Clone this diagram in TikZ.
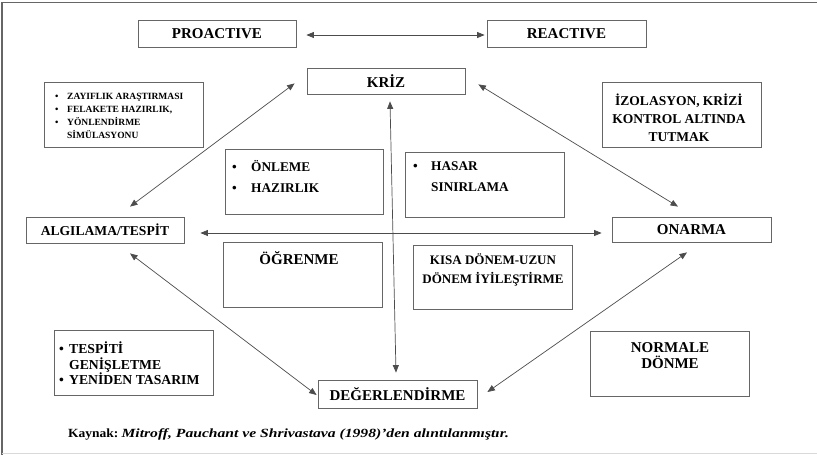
\documentclass[tikz,border=0pt]{standalone}
\usepackage{fontspec}
\setmainfont{Liberation Serif}
\usetikzlibrary{arrows.meta,calc,positioning}

\begin{document}
\begin{tikzpicture}[x=1pt,y=-1pt,
    kutu/.style={draw=black!60,line width=0.8pt,inner sep=0pt,minimum width=158pt},
    ok/.style={draw=black!70,line width=0.7pt,{Triangle[length=7.5pt,width=6pt]}-{Triangle[length=7.5pt,width=6pt]}},
    baslik/.style={font=\fontsize{15}{17}\selectfont\bfseries},
    yazi/.style={font=\fontsize{13}{15}\selectfont\bfseries,inner sep=0pt}]
    \useasboundingbox (0,0) rectangle (817,455);
    % cerceve
    \draw[black!60,line width=1.6pt] (2,455) -- (2,2.5) -- (817,2.5);
    \draw[black!15,line width=1pt] (2,453) -- (817,453);
    % ana kutular
    \node[kutu,baslik,minimum height=27pt] (pro) at (217,33.5) {PROACTIVE};
    \node[kutu,baslik,minimum height=27pt,minimum width=159pt] (rea) at (566.5,33.5) {REACTIVE};
    \node[kutu,baslik,minimum height=26pt] (kriz) at (386,81) {KRİZ};
    \node[kutu,baslik,minimum height=26pt,font=\fontsize{13.6}{15}\selectfont\bfseries] (alg) at (105,230) {ALGILAMA/TESPİT};
    \node[kutu,baslik,minimum height=25pt,minimum width=159pt] (ona) at (691.5,229.5) {ONARMA};
    \node[kutu,baslik,minimum height=28pt,minimum width=159pt] (deg) at (397.5,394) {DEĞERLENDİRME};
    % ara kutular
    \node[kutu,minimum width=159pt,minimum height=65pt] (zay) at (123.5,114.5) {};
    \node[kutu,minimum width=159pt,minimum height=65pt] (izo) at (681.5,114.5) {};
    \node[kutu,minimum height=65pt] (onl) at (304,181.5) {};
    \node[kutu,minimum width=159pt,minimum height=65pt] (has) at (484.5,184.5) {};
    \node[kutu,minimum width=159pt,minimum height=65pt] (ogr) at (302.5,274.5) {};
    \node[kutu,minimum width=159pt,minimum height=64pt] (kis) at (492.5,277) {};
    \node[kutu,minimum width=159pt,minimum height=65pt] (tes) at (133.5,362.5) {};
    \node[kutu,minimum width=159pt,minimum height=65pt] (nor) at (669.5,363.5) {};
    % kutu yazilari
    \node[yazi,font=\fontsize{9.5}{13}\selectfont\bfseries,align=left,anchor=west] (zayyazi) at (55,116)
        {\makebox[12pt][l]{•}ZAYIFLIK ARAŞTIRMASI\\\makebox[12pt][l]{•}FELAKETE HAZIRLIK,\\\makebox[12pt][l]{•}YÖNLENDİRME\\\hspace*{12pt}SİMÜLASYONU};
    \node[yazi,font=\fontsize{13.5}{18}\selectfont\bfseries,align=center] (izoyazi) at (679,117.5)
        {İZOLASYON, KRİZİ\\KONTROL ALTINDA\\TUTMAK};
    \node[yazi,font=\fontsize{13.3}{21}\selectfont\bfseries,align=left,anchor=west] (onlyazi) at (232,176.5)
        {\makebox[19pt][l]{•}ÖNLEME\\\makebox[19pt][l]{•}HAZIRLIK};
    \node[yazi,font=\fontsize{13.3}{21}\selectfont\bfseries,align=left,anchor=west] (hasyazi) at (413,176.5)
        {\makebox[18pt][l]{•}HASAR\\\hspace*{18pt}SINIRLAMA};
    \node[yazi,font=\fontsize{15}{17}\selectfont\bfseries] (ogryazi) at (299,258) {ÖĞRENME};
    \node[yazi,font=\fontsize{13}{19}\selectfont\bfseries,align=center] (kisyazi) at (493,269.5)
        {KISA DÖNEM-UZUN\\DÖNEM İYİLEŞTİRME};
    \node[yazi,font=\fontsize{13.7}{15.5}\selectfont\bfseries,align=left,anchor=west] (tesyazi) at (59,363.5)
        {\makebox[10pt][l]{•}TESPİTİ\\\hspace*{10pt}GENİŞLETME\\\makebox[10pt][l]{•}YENİDEN TASARIM};
    \node[yazi,font=\fontsize{15}{16.5}\selectfont\bfseries,align=center] (noryazi) at (670,355.5)
        {NORMALE\\DÖNME};
    % kaynak
    \node[yazi,font=\fontsize{12.5}{14}\selectfont\bfseries,anchor=west] (kaynak) at (68,434)
        {\scalebox{1.08}[1]{Kaynak:} \scalebox{1.25}[1]{\itshape Mitroff, Pauchant ve Shrivastava (1998)’den alıntılanmıştır.}};
    % oklar
    \draw[ok] ($(pro.east)+(10,1.5)$) -- ($(rea.west)+(-2,1.5)$);
    \draw[ok] ($(kriz.south west)+(-12,-11)$) -- ($(alg.north)+(25,-10)$);
    \draw[ok] ($(kriz.south east)+(13,-10)$) -- ($(ona.north)+(-13.5,-10)$);
    \draw[ok] ($(alg.east)+(16,3)$) -- ($(ona.west)+(-10,3.5)$);
    \draw[ok] ($(kriz.south)+(4,7)$) -- ($(deg.north)+(-1.5,-7)$);
    \draw[ok] ($(alg.south)+(25,10)$) -- ($(deg.west)+(-1,1)$);
    \draw[ok] ($(ona.south)+(-4.5,10)$) -- ($(deg.east)+(10,-2)$);
\end{tikzpicture}
\end{document}
